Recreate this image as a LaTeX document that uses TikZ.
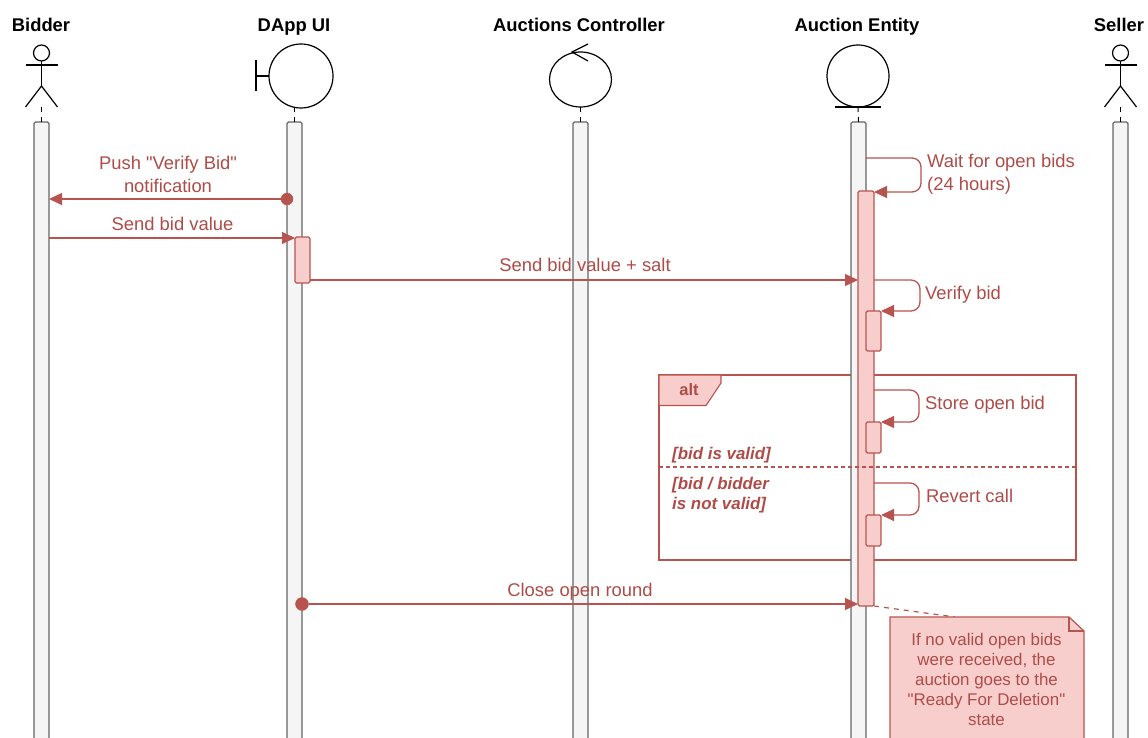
\documentclass[tikz,border=0pt]{standalone}
\usepackage{fontspec}
\setmainfont{Liberation Sans}
\newfontfamily\plainquote{Liberation Sans}
\newcommand{\sq}{{\plainquote\symbol{34}}}
\usetikzlibrary{arrows.meta,calc}
\definecolor{redline}{HTML}{B85450}
\definecolor{redfill}{HTML}{F8CECC}
\definecolor{redtext}{HTML}{AE4C48}
\definecolor{bargrey}{HTML}{666666}
\definecolor{barfill}{HTML}{F5F5F5}
\tikzset{
  lifebar/.style={draw=bargrey,fill=barfill,line width=1.2pt,rounded corners=1.5pt,minimum width=15pt,minimum height=640pt,anchor=north,inner sep=0pt,outer sep=0pt},
  actbox/.style={draw=redline,fill=redfill,line width=1.2pt,rounded corners=1.5pt,inner sep=0pt,outer sep=0pt,anchor=north west},
  title/.style={font=\bfseries\fontsize{18.4}{22}\selectfont,text=black,inner sep=0pt,anchor=base},
  msglabel/.style={font=\fontsize{18.4}{23}\selectfont,text=redtext,inner sep=0pt,align=center},
  onelabel/.style={msglabel,anchor=base},
  selflabel/.style={msglabel,anchor=base west,align=left},
  guard/.style={font=\bfseries\itshape\fontsize{16.9}{20}\selectfont,text=redtext,inner sep=0pt,anchor=west,align=left},
  msg/.style={draw=redline,line width=1.3pt,-{Triangle[length=13pt,width=12pt]}},
  selfmsg/.style={msg,rounded corners=9pt},
  startdot/.style={circle,fill=redline,draw=redline,minimum size=12pt,inner sep=0pt,outer sep=0pt},
  shape line/.style={draw=black,line width=1.2pt},
  lifelink/.style={draw=black,line width=1pt,dash pattern=on 5pt off 5pt},
  guardline/.style={draw=redline,line width=1.2pt,dash pattern=on 4pt off 3pt},
  notelink/.style={draw=redline,line width=1.2pt,dash pattern=on 5pt off 5pt},
}
\newcommand{\stickman}[2]{%
  \node[circle,shape line,fill=white,minimum size=16pt,inner sep=0pt,outer sep=0pt] (#1) at (#2,53) {};
  \coordinate (#1foot) at (#2,107);
  \coordinate (#1hip) at (#2,86);
  \draw[shape line] (#2-16,65) -- (#2+16,65);
  \draw[shape line] (#1.south) -- (#1hip);
  \draw[shape line] (#2-16,107) -- (#1hip) -- (#2+16,107);
}
\begin{document}
\begin{tikzpicture}[x=1pt,y=-1pt]
\useasboundingbox (0,0) rectangle (1148,738);
\fill[white] (0,0) rectangle (1148,738);
\clip (0,0) rectangle (1148,738);

% frame
\node[draw=redline,line width=1.1pt,fill=white,minimum width=417pt,minimum height=185pt,anchor=north west,inner sep=0pt,outer sep=0pt] (altframe) at (659,375) {};
\filldraw[draw=redline,fill=redfill,line width=1.1pt] (altframe.north west) -- (721,375) -- (721,383) -- (706,405.5) -- (659,405.5) -- cycle;
\node[font=\bfseries\fontsize{16.5}{20}\selectfont,text=redtext,inner sep=0pt,anchor=base] (alttag) at (689,395.5) {alt};

% titles
\node[title] (tbidder) at (41,31.5) {Bidder};
\node[title] (tdapp) at (294,31.5) {DApp UI};
\node[title] (tctrl) at (579,31.5) {Auctions Controller};
\node[title] (tentity) at (857,31.5) {Auction Entity};
\node[title] (tseller) at (1119,31.5) {Seller};

% lifelines
\node[lifebar] (bidderbar) at (41.5,122) {};
\node[lifebar] (dappbar) at (294.5,122) {};
\node[lifebar] (ctrlbar) at (580.5,122) {};
\node[lifebar] (entitybar) at (858.5,122) {};
\node[lifebar] (sellerbar) at (1120.5,122) {};

% figures
\stickman{bidder}{41.5}
\stickman{seller}{1120.5}
\node[circle,shape line,fill=white,minimum size=64pt,inner sep=0pt,outer sep=0pt] (dappfig) at (301,76) {};
\draw[shape line] (256,60) -- (256,91);
\draw[shape line] (256,76) -- (dappfig.west);
\coordinate (dappfoot) at (294.5,107);
\draw[shape line] (580.5,79.5) ellipse [x radius=31,y radius=27.5];
\coordinate (ctrlfoot) at (580.5,107);
\draw[shape line] (588,44) -- (572,52) -- (588,61);
\node[circle,shape line,fill=white,minimum size=62pt,inner sep=0pt,outer sep=0pt] (entityfig) at (858,76) {};
\draw[shape line] (835,107) -- (881,107);

\draw[lifelink] (bidderfoot) -- (bidderbar.north);
\draw[lifelink] (dappfoot) -- (dappbar.north);
\draw[lifelink] (ctrlfoot) -- (ctrlbar.north);
\draw[lifelink] (entityfig.south) -- (entitybar.north);
\draw[lifelink] (sellerfoot) -- (sellerbar.north);

% activations
\node[actbox,minimum width=15pt,minimum height=46pt] (dappact) at (295,237) {};
\node[actbox,minimum width=16pt,minimum height=415pt] (entityact) at (858,191) {};
\node[actbox,minimum width=15pt,minimum height=40pt] (verifyact) at (866,311) {};
\node[actbox,minimum width=15pt,minimum height=31pt] (storeact) at (866,422) {};
\node[actbox,minimum width=15pt,minimum height=31pt] (revertact) at (866,515) {};

\draw[guardline] (659,467) -- (1076,467);

% messages
\node[startdot] (dotpush) at (dappbar.west |- 0,199) {};
\draw[msg] (dotpush) -- (bidderbar.east |- dotpush);
\draw[msg] (bidderbar.east |- 0,238) -- (dappact.west |- 0,238);
\draw[msg] (dappact.east |- 0,280) -- (entityact.west |- 0,280);
\draw[selfmsg] (entitybar.east |- 0,158) -- (921,158) -- (921,192) -- (entityact.east |- 0,192);
\draw[selfmsg] (entityact.east |- 0,280) -- (920,280) -- (920,311) -- (verifyact.north east);
\draw[selfmsg] (entityact.east |- 0,390) -- (919,390) -- (919,422) -- (storeact.north east);
\draw[selfmsg] (entityact.east |- 0,483) -- (919,483) -- (919,515) -- (revertact.north east);
\node[startdot,minimum size=13pt] (dotclose) at (dappbar.east |- 0,604) {};
\draw[msg] (dotclose) -- (entityact.west |- dotclose);

% labels
\node[msglabel] (lpush) at (168,174) {Push \sq Verify Bid\sq\\notification};
\node[onelabel] (lsend) at (172.5,230) {Send bid value};
\node[onelabel] (lsalt) at (585,271.5) {Send bid value + salt};
\node[onelabel] (lclose) at (580,596.5) {Close open round};
\node[msglabel,anchor=west,align=left] (lwait) at (927,174) {Wait for open bids\\(24 hours)};
\node[selflabel] (lverify) at (925,299.5) {Verify bid};
\node[selflabel] (lstore) at (925,409.5) {Store open bid};
\node[selflabel] (lrevert) at (926,502.5) {Revert call};
\node[guard] (gvalid) at (672,455) {[bid is valid]};
\node[guard] (ginvalid) at (672,495) {[bid / bidder\\is not valid]};

% note
\coordinate (notelinkend) at (955,617);
\draw[notelink] (entityact.south east) -- (notelinkend);
\filldraw[draw=redline,fill=redfill,line width=1.2pt] (890,617) -- (1069,617) -- (1084,631) -- (1084,750) -- (890,750) -- cycle;
\draw[draw=redline,line width=1.2pt] (1069,617) -- (1069,631) -- (1084,631);
\node[font=\fontsize{16.9}{20}\selectfont,text=redtext,inner sep=0pt,align=center] (notetext) at (986.5,679.5) {If no valid open bids\\were received, the\\auction goes to the\\\sq Ready For Deletion\sq\\state};
\end{tikzpicture}
\end{document}
